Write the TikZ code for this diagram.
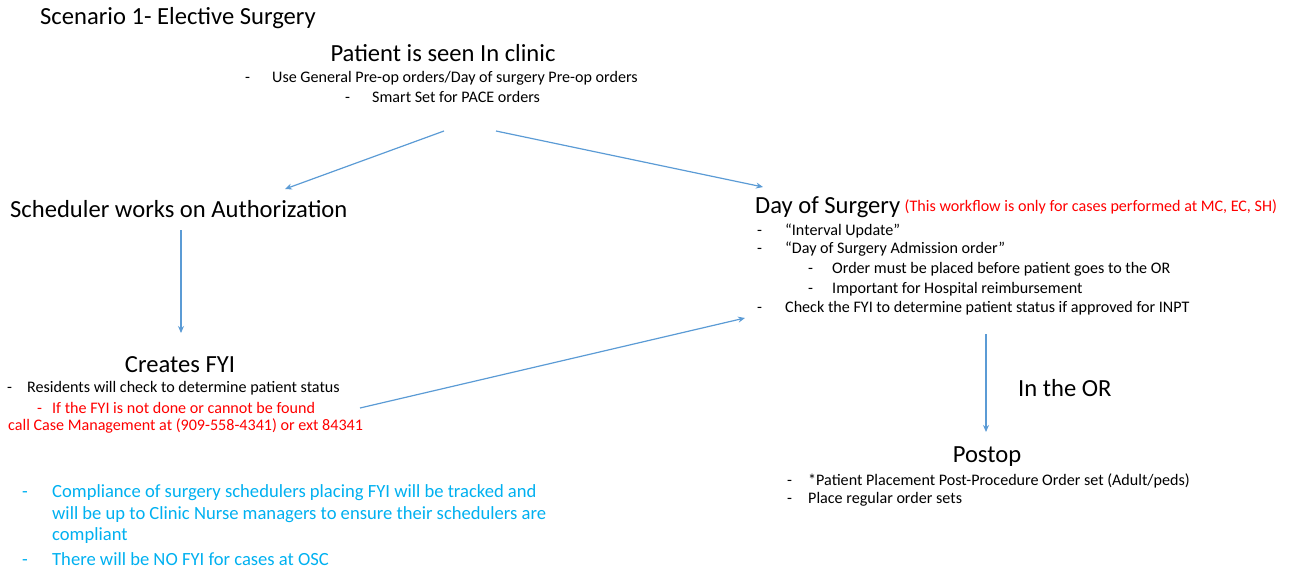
\documentclass[tikz,border=0pt]{standalone}
\usepackage{fontspec}
\setmainfont{Carlito}
\usetikzlibrary{arrows.meta}
\definecolor{arrowblue}{RGB}{91,155,213}
\definecolor{notecyan}{RGB}{0,176,240}
\definecolor{notered}{RGB}{255,0,0}
\newcommand{\bullt}[2]{\makebox[#1][l]{-}#2}

\begin{document}
\begin{tikzpicture}[x=1pt,y=-1pt,
        head/.style={font=\fontsize{24.6}{29}\selectfont, inner sep=0pt},
        small/.style={font=\fontsize{16.1}{19}\selectfont, inner sep=0pt, anchor=west},
        note/.style={font=\fontsize{18.6}{22}\selectfont, inner sep=0pt, anchor=west, text=notecyan},
        flow/.style={draw=arrowblue, line width=1.2pt, -{Stealth[length=7pt,width=6pt]}}]
  \useasboundingbox (0,0) rectangle (1293,571);

  % title
  \node[head, anchor=west] (title) at (40,18) {Scenario 1- Elective Surgery};

  % clinic
  \node[head] (clinic) at (443,53) {Patient is seen In clinic};
  \node[small] (clinic1) at (245,78) {\bullt{27pt}{Use General Pre-op orders/Day of surgery Pre-op orders}};
  \node[small] (clinic2) at (345,97) {\bullt{27pt}{Smart Set for PACE orders}};

  % scheduler
  \node[head, anchor=west] (sched) at (10,209) {Scheduler works on Authorization};

  % FYI
  \node[head] (fyi) at (180,365) {Creates FYI};
  \node[small] (fyi1) at (7,388) {\bullt{20pt}{Residents will check to determine patient status}};
  \node[small, text=notered] (fyi2) at (37,408) {\bullt{15pt}{If the FYI is not done or cannot be found}};
  \node[small, text=notered] (fyi3) at (8,426) {call Case Management at (909-558-4341) or ext 84341};

  % day of surgery
  \node[head, anchor=west] (dos) at (755,207) {Day of Surgery};
  \node[small, text=notered] (dosnote) at (dos.east) {\hspace{4pt}(This workflow is only for cases performed at MC, EC, SH)};
  \node[small] (dos1) at (757,231) {\bullt{28pt}{“Interval Update”}};
  \node[small] (dos2) at (757,249) {\bullt{28pt}{“Day of Surgery Admission order”}};
  \node[small] (dos3) at (808,269) {\bullt{24pt}{Order must be placed before patient goes to the OR}};
  \node[small] (dos4) at (808,289) {\bullt{24pt}{Important for Hospital reimbursement}};
  \node[small] (dos5) at (757,308) {\bullt{28pt}{Check the FYI to determine patient status if approved for INPT}};

  % OR and postop
  \node[head, anchor=west] (inor) at (1018,388) {In the OR};
  \node[head] (postop) at (987,457) {Postop};
  \node[small] (postop1) at (787,481) {\bullt{21pt}{*Patient Placement Post-Procedure Order set (Adult/peds)}};
  \node[small] (postop2) at (787,499) {\bullt{21pt}{Place regular order sets}};

  % notes
  \node[note] (note1) at (22,493) {\bullt{30pt}{Compliance of surgery schedulers placing FYI will be tracked and}};
  \node[note] (note2) at (52,515) {will be up to Clinic Nurse managers to ensure their schedulers are};
  \node[note] (note3) at (52,536) {compliant};
  \node[note] (note4) at (22,559) {\bullt{30pt}{There will be NO FYI for cases at OSC}};

  % arrows
  \coordinate (c1) at (444,131);
  \coordinate (c2) at (496,131);
  \coordinate (s1) at (285,189);
  \coordinate (d1) at (763,187);
  \coordinate (s2) at (181,230);
  \coordinate (f1) at (181,333);
  \coordinate (f2) at (360,408);
  \coordinate (d2) at (745,318);
  \coordinate (d3) at (986,334);
  \coordinate (p1) at (986,432);
  \draw[flow] (c1) -- (s1);
  \draw[flow] (c2) -- (d1);
  \draw[flow] (s2) -- (f1);
  \draw[flow] (f2) -- (d2);
  \draw[flow] (d3) -- (p1);
\end{tikzpicture}
\end{document}
